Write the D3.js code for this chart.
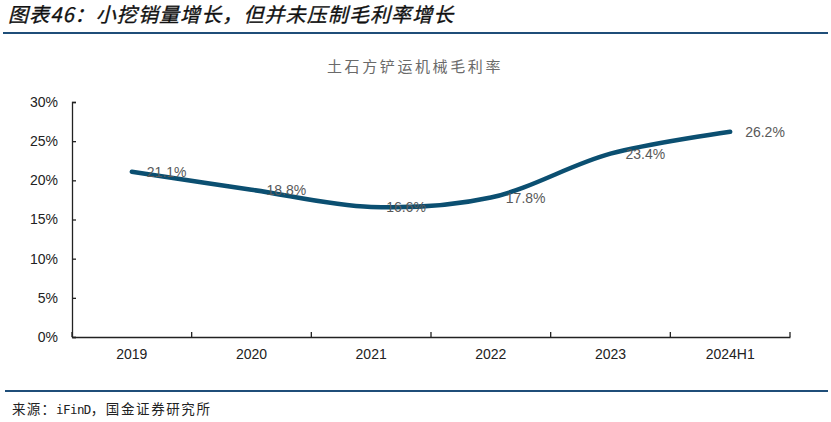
<!DOCTYPE html>
<html><head><meta charset="utf-8">
<script src="https://cdn.jsdelivr.net/npm/d3@7"></script>
<style>body{margin:0;background:#fff}svg{display:block}</style>
</head><body>
<script>
const categories = ["2019","2020","2021","2022","2023","2024H1"];
const margin = [21.1,18.8,16.6,17.8,23.4,26.2];
const yTicks = [0,5,10,15,20,25,30];
const title = "图表46：小挖销量增长，但并未压制毛利率增长";
const chartTitle = "土石方铲运机械毛利率";
const sourceParts = ["来源：","iFinD","，国金证券研究所"];

const W=831,H=422;
const svg=d3.select("body").append("svg").attr("width",W).attr("height",H);

svg.append("text").attr("x",8).attr("y",22).text(title)
  .attr("font-family","'Noto Sans CJK SC'").attr("font-size",20).attr("font-style","italic").attr("letter-spacing",1.1)
  .attr("fill","#111").attr("stroke","#111").attr("stroke-width",0.35);
svg.append("line").attr("x1",3).attr("x2",828).attr("y1",33).attr("y2",33).attr("stroke","#1f4e79").attr("stroke-width",2);
svg.append("line").attr("x1",5).attr("x2",828).attr("y1",391).attr("y2",391).attr("stroke","#1f4e79").attr("stroke-width",2);
const src=svg.append("text").attr("x",12).attr("y",414)
  .attr("font-family","'Noto Sans CJK SC'").attr("font-size",13.5).attr("fill","#222");
src.append("tspan").attr("letter-spacing",1.2).text(sourceParts[0]);
src.append("tspan").attr("font-family","'DejaVu Sans Mono'").attr("font-size",12.5).attr("letter-spacing",-0.6).text(sourceParts[1]);
src.append("tspan").attr("letter-spacing",1.6).text(sourceParts[2]);

svg.append("text").attr("x",415).attr("y",72).attr("text-anchor","middle").text(chartTitle)
  .attr("font-family","'Noto Sans CJK SC'").attr("font-size",15).attr("fill","#6a6a6a").attr("letter-spacing",2.6);

const x=d3.scaleBand().domain(categories).range([72,790]);
const y=d3.scaleLinear().domain([0,30]).range([337,102]);

const ya=svg.append("g").attr("transform","translate(72,0)")
  .call(d3.axisLeft(y).tickValues(yTicks).tickFormat(d=>d+"%").tickSizeInner(-4).tickSizeOuter(-4).tickPadding(14));
ya.selectAll("text").attr("font-family","'Liberation Sans',Arial").attr("font-size",14).attr("fill","#222");
ya.selectAll("path,line").attr("stroke","#222").attr("stroke-width",1.3);

const xa=svg.append("g").attr("transform","translate(0,337)")
  .call(d3.axisBottom(x).tickSize(0).tickPadding(12));
xa.selectAll("text").attr("font-family","'Liberation Sans',Arial").attr("font-size",14).attr("fill","#222");
xa.select("path").attr("stroke","#222").attr("stroke-width",1.3);
const bounds=categories.map(c=>x(c)+x.bandwidth()).concat([x(categories[0])]);
xa.selectAll(".bt").data(bounds).enter().append("line").attr("class","bt")
  .attr("x1",d=>d).attr("x2",d=>d).attr("y1",0).attr("y2",-5).attr("stroke","#222").attr("stroke-width",1.3);

const cx=c=>x(c)+x.bandwidth()/2;
const line=d3.line().x((d,i)=>cx(categories[i])).y(d=>y(d)).curve(d3.curveCatmullRom.alpha(0.5));
svg.append("path").datum(margin).attr("d",line).attr("fill","none")
  .attr("stroke","#0b4f71").attr("stroke-width",4.5).attr("stroke-linecap","round");

svg.selectAll(".lbl").data(margin).enter().append("text")
  .attr("x",(d,i)=>cx(categories[i])+15).attr("y",d=>y(d)+5)
  .text(d=>d.toFixed(1)+"%")
  .attr("font-family","'Liberation Sans',Arial").attr("font-size",14).attr("fill","#595959");
</script>
</body></html>
